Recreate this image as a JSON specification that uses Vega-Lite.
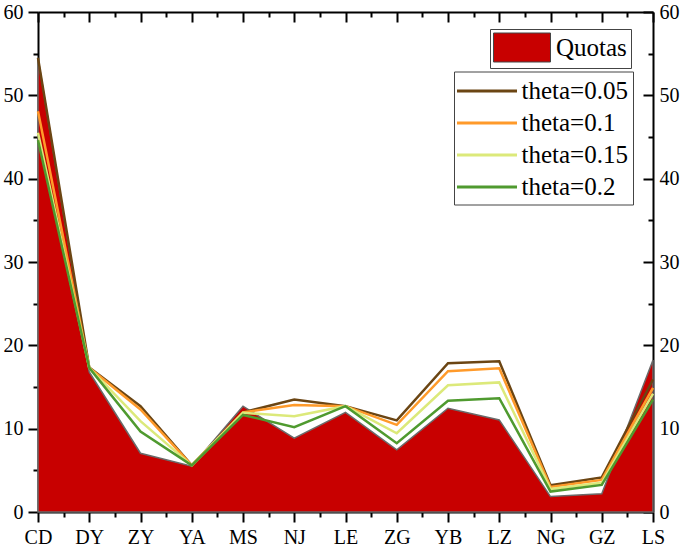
{
  "$schema": "https://vega.github.io/schema/vega-lite/v6.json",
  "width": 615,
  "height": 500,
  "autosize": "none",
  "padding": {"left": 38, "top": 12, "right": 32, "bottom": 40},
  "background": "white",
  "config": {
    "view": {"stroke": null},
    "font": "Liberation Serif",
    "axis": {
      "grid": false,
      "domainColor": "black",
      "domainWidth": 2,
      "tickColor": "black",
      "tickWidth": 2,
      "labelFont": "Liberation Serif",
      "labelFontSize": 20,
      "labelColor": "black",
      "title": null
    },
    "legend": {"labelFont": "Liberation Serif", "labelColor": "black"}
  },
  "datasets": {
    "quota": [
      {"city": "CD", "quota": 54.5},
      {"city": "DY", "quota": 16.8},
      {"city": "ZY", "quota": 7.05},
      {"city": "YA", "quota": 5.5},
      {"city": "MS", "quota": 12.7},
      {"city": "NJ", "quota": 8.85},
      {"city": "LE", "quota": 11.95},
      {"city": "ZG", "quota": 7.45},
      {"city": "YB", "quota": 12.45},
      {"city": "LZ", "quota": 11.05},
      {"city": "NG", "quota": 1.85},
      {"city": "GZ", "quota": 2.2},
      {"city": "LS", "quota": 18.25}
    ],
    "plan": [
      {"city": "CD", "series": "theta=0.05", "value": 54.5},
      {"city": "CD", "series": "theta=0.1", "value": 48.1},
      {"city": "CD", "series": "theta=0.15", "value": 45.5},
      {"city": "CD", "series": "theta=0.2", "value": 44.6},
      {"city": "DY", "series": "theta=0.05", "value": 17.35},
      {"city": "DY", "series": "theta=0.1", "value": 17.3},
      {"city": "DY", "series": "theta=0.15", "value": 17.3},
      {"city": "DY", "series": "theta=0.2", "value": 17.3},
      {"city": "ZY", "series": "theta=0.05", "value": 12.7},
      {"city": "ZY", "series": "theta=0.1", "value": 12.3},
      {"city": "ZY", "series": "theta=0.15", "value": 10.9},
      {"city": "ZY", "series": "theta=0.2", "value": 9.65},
      {"city": "YA", "series": "theta=0.05", "value": 5.6},
      {"city": "YA", "series": "theta=0.1", "value": 5.6},
      {"city": "YA", "series": "theta=0.15", "value": 5.6},
      {"city": "YA", "series": "theta=0.2", "value": 5.6},
      {"city": "MS", "series": "theta=0.05", "value": 11.95},
      {"city": "MS", "series": "theta=0.1", "value": 11.95},
      {"city": "MS", "series": "theta=0.15", "value": 11.9},
      {"city": "MS", "series": "theta=0.2", "value": 11.65},
      {"city": "NJ", "series": "theta=0.05", "value": 13.5},
      {"city": "NJ", "series": "theta=0.1", "value": 12.85},
      {"city": "NJ", "series": "theta=0.15", "value": 11.5},
      {"city": "NJ", "series": "theta=0.2", "value": 10.17},
      {"city": "LE", "series": "theta=0.05", "value": 12.7},
      {"city": "LE", "series": "theta=0.1", "value": 12.7},
      {"city": "LE", "series": "theta=0.15", "value": 12.7},
      {"city": "LE", "series": "theta=0.2", "value": 12.7},
      {"city": "ZG", "series": "theta=0.05", "value": 11.0},
      {"city": "ZG", "series": "theta=0.1", "value": 10.45},
      {"city": "ZG", "series": "theta=0.15", "value": 9.45},
      {"city": "ZG", "series": "theta=0.2", "value": 8.25},
      {"city": "YB", "series": "theta=0.05", "value": 17.85},
      {"city": "YB", "series": "theta=0.1", "value": 16.9},
      {"city": "YB", "series": "theta=0.15", "value": 15.2},
      {"city": "YB", "series": "theta=0.2", "value": 13.35},
      {"city": "LZ", "series": "theta=0.05", "value": 18.1},
      {"city": "LZ", "series": "theta=0.1", "value": 17.25},
      {"city": "LZ", "series": "theta=0.15", "value": 15.55},
      {"city": "LZ", "series": "theta=0.2", "value": 13.65},
      {"city": "NG", "series": "theta=0.05", "value": 3.2},
      {"city": "NG", "series": "theta=0.1", "value": 3.0},
      {"city": "NG", "series": "theta=0.15", "value": 2.75},
      {"city": "NG", "series": "theta=0.2", "value": 2.45},
      {"city": "GZ", "series": "theta=0.05", "value": 4.15},
      {"city": "GZ", "series": "theta=0.1", "value": 3.85},
      {"city": "GZ", "series": "theta=0.15", "value": 3.5},
      {"city": "GZ", "series": "theta=0.2", "value": 3.25},
      {"city": "LS", "series": "theta=0.05", "value": 15.9},
      {"city": "LS", "series": "theta=0.1", "value": 14.9},
      {"city": "LS", "series": "theta=0.15", "value": 14.2},
      {"city": "LS", "series": "theta=0.2", "value": 13.5}
    ]
  },
  "layer": [
    {
      "layer": [
        {
          "data": {"name": "quota"},
          "mark": {"type": "area", "stroke": "#6a6a6a", "strokeWidth": 1.5},
          "encoding": {
            "x": {"field": "city", "type": "nominal", "sort": null,
              "scale": {"type": "point", "padding": 0},
              "axis": {"orient": "bottom", "labelAngle": 0, "tickSize": 10, "labelPadding": 5}},
            "y": {"field": "quota", "type": "quantitative",
              "scale": {"domain": [0, 60], "nice": false},
              "axis": {"orient": "left", "values": [0, 10, 20, 30, 40, 50, 60], "tickSize": 10, "labelPadding": 5}},
            "fill": {"datum": "Quotas", "type": "nominal",
              "scale": {"range": ["#C80000"]},
              "legend": {"orient": "none", "legendX": 452, "legendY": 17, "title": null,
                "symbolType": "M-1.966,-1H1.966V1H-1.966Z", "symbolSize": 841,
                "symbolStrokeColor": "#444", "symbolStrokeWidth": 1,
                "symbolOffset": 13.5, "labelOffset": 19, "labelFontSize": 25,
                "strokeColor": "#444", "padding": 3.5}}
          }
        },
        {
          "data": {"name": "plan"},
          "mark": {"type": "line", "strokeWidth": 2.5},
          "encoding": {
            "x": {"field": "city", "type": "nominal", "sort": null,
              "scale": {"type": "point", "padding": 0},
              "axis": {"orient": "top", "labels": false, "tickSize": -10}},
            "y": {"field": "value", "type": "quantitative",
              "scale": {"domain": [0, 60], "nice": false},
              "axis": {"orient": "right", "values": [0, 10, 20, 30, 40, 50, 60], "tickSize": -10, "labelPadding": 16}},
            "stroke": {"field": "series", "type": "nominal",
              "scale": {"domain": ["theta=0.05", "theta=0.1", "theta=0.15", "theta=0.2"],
                "range": ["#6B4513", "#FF9A2A", "#DCE97A", "#4F9A2F"]},
              "legend": {"orient": "none", "legendX": 416, "legendY": 59.5, "title": null,
                "symbolType": "M-2.222,0H2.222", "symbolSize": 729, "symbolStrokeWidth": 3,
                "symbolOffset": 13.5, "labelOffset": 19.5, "labelFontSize": 25,
                "rowPadding": 4, "padding": 4.5, "strokeColor": "#444"}}
          }
        }
      ],
      "resolve": {"axis": {"x": "independent", "y": "independent"}}
    },
    {
      "data": {"name": "quota"},
      "mark": {"type": "point", "opacity": 0},
      "encoding": {
        "x": {"datum": 0, "type": "quantitative", "scale": {"domain": [0, 12], "nice": false, "zero": false},
          "axis": {"orient": "bottom", "values": [0.5, 1.5, 2.5, 3.5, 4.5, 5.5, 6.5, 7.5, 8.5, 9.5, 10.5, 11.5], "tickSize": 5, "labels": false, "domain": false}},
        "y": {"datum": 0, "type": "quantitative", "scale": {"domain": [0, 60], "nice": false},
          "axis": {"orient": "left", "values": [5, 15, 25, 35, 45, 55], "tickSize": 5, "labels": false, "domain": false}}
      }
    },
    {
      "data": {"name": "quota"},
      "mark": {"type": "point", "opacity": 0},
      "encoding": {
        "x": {"datum": 0, "type": "quantitative", "scale": {"domain": [0, 12], "nice": false, "zero": false},
          "axis": {"orient": "top", "values": [0.5, 1.5, 2.5, 3.5, 4.5, 5.5, 6.5, 7.5, 8.5, 9.5, 10.5, 11.5], "tickSize": -5, "labels": false, "domain": false}},
        "y": {"datum": 0, "type": "quantitative", "scale": {"domain": [0, 60], "nice": false},
          "axis": {"orient": "right", "values": [5, 15, 25, 35, 45, 55], "tickSize": -5, "labels": false, "domain": false}}
      }
    }
  ],
  "resolve": {"scale": {"x": "independent", "y": "independent"}, "axis": {"x": "independent", "y": "independent"}}
}
